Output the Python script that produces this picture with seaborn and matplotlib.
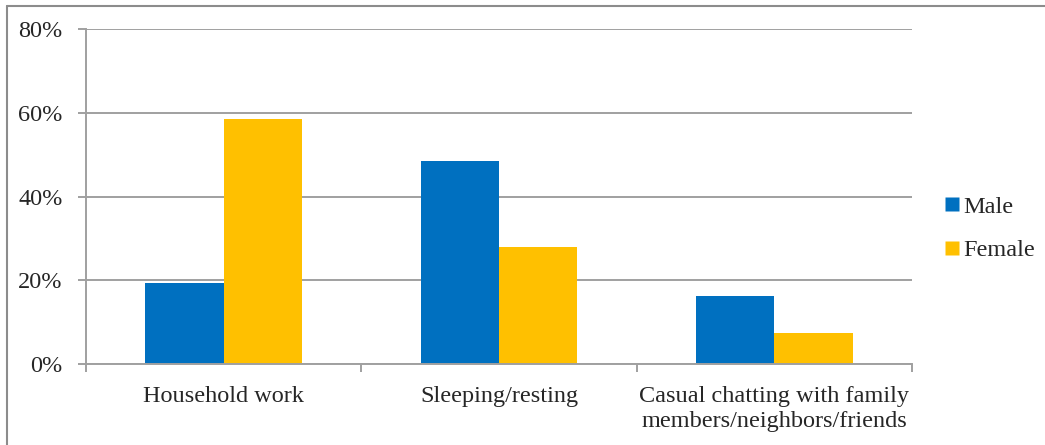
"""
Grouped bar chart: share of time use by activity, male vs female.
"""

import matplotlib.pyplot as plt
import pandas as pd
import seaborn as sns
from matplotlib.lines import Line2D
from matplotlib.ticker import PercentFormatter

activities = [
    'Household work',
    'Sleeping/resting',
    'Casual chatting with family\nmembers/neighbors/friends',
]
male = [19.3, 48.6, 16.3]
female = [58.5, 28.0, 7.4]
genders = ['Male', 'Female']
palette = {'Male': '#0070C0', 'Female': '#FFC000'}
y_ticks = [0, 20, 40, 60, 80]

sns.set_style('white')
plt.rcParams['font.family'] = ['Liberation Serif', 'DejaVu Serif']

df = pd.DataFrame({
    'Activity': activities * 2,
    'Gender': ['Male'] * 3 + ['Female'] * 3,
    'Share': male + female,
})

fig = plt.figure(figsize=(10.45, 4.45), dpi=100)
ax = fig.add_axes([86 / 1045, 1 - 364 / 445, (912 - 86) / 1045, (364 - 29.3) / 445])

sns.barplot(
    data=df, x='Activity', y='Share', hue='Gender', hue_order=genders,
    palette=palette, width=0.57, gap=0, saturation=1,
    edgecolor='none', linewidth=0, ax=ax,
)

grid_color = '#A0A0A0'
ax.set_ylim(0, 80)
ax.set_xlim(-0.5, 2.5)
ax.set_yticks(y_ticks)
ax.yaxis.set_major_formatter(PercentFormatter(decimals=0))
ax.yaxis.grid(True, color=grid_color, linewidth=1.4)
ax.set_axisbelow(True)
ax.set_xlabel('')
ax.set_ylabel('')

for side in ['top', 'right']:
    ax.spines[side].set_visible(False)
for side in ['left', 'bottom']:
    ax.spines[side].set_color(grid_color)
    ax.spines[side].set_linewidth(1.4)

# category ticks sit at the boundaries in Excel style
ax.set_xticks([-0.5, 0.5, 1.5, 2.5], minor=False)
ax.set_xticklabels([])
ax.set_xticks([0, 1, 2], minor=True)
ax.set_xticklabels(activities, minor=True, fontsize=17.5, linespacing=1.25)
ax.tick_params(axis='x', which='major', length=6, width=1.4, color=grid_color,
               direction='out', bottom=True)
ax.tick_params(axis='x', which='minor', length=0, pad=16)
ax.tick_params(axis='y', length=6, width=1.4, color=grid_color, direction='out',
               left=True, labelsize=17.5, pad=11)

handles = [
    Line2D([], [], marker='s', linestyle='none', markersize=10,
           markerfacecolor=palette[g], markeredgecolor='none', label=g)
    for g in genders
]
ax.legend(handles=handles, loc='center left', bbox_to_anchor=(1.028, 0.405),
          frameon=False, fontsize=17.5, handlelength=0.6, handletextpad=0.15,
          labelspacing=0.9, borderaxespad=0)

# partial frame round the chart area
fig.add_artist(Line2D([7 / 1045, 1], [1 - 6 / 445] * 2, color='#8C8C8C', linewidth=1.5))
fig.add_artist(Line2D([7 / 1045] * 2, [0, 1 - 6 / 445], color='#8C8C8C', linewidth=1.5))

fig.savefig('out.png', dpi=100)
plt.close(fig)
